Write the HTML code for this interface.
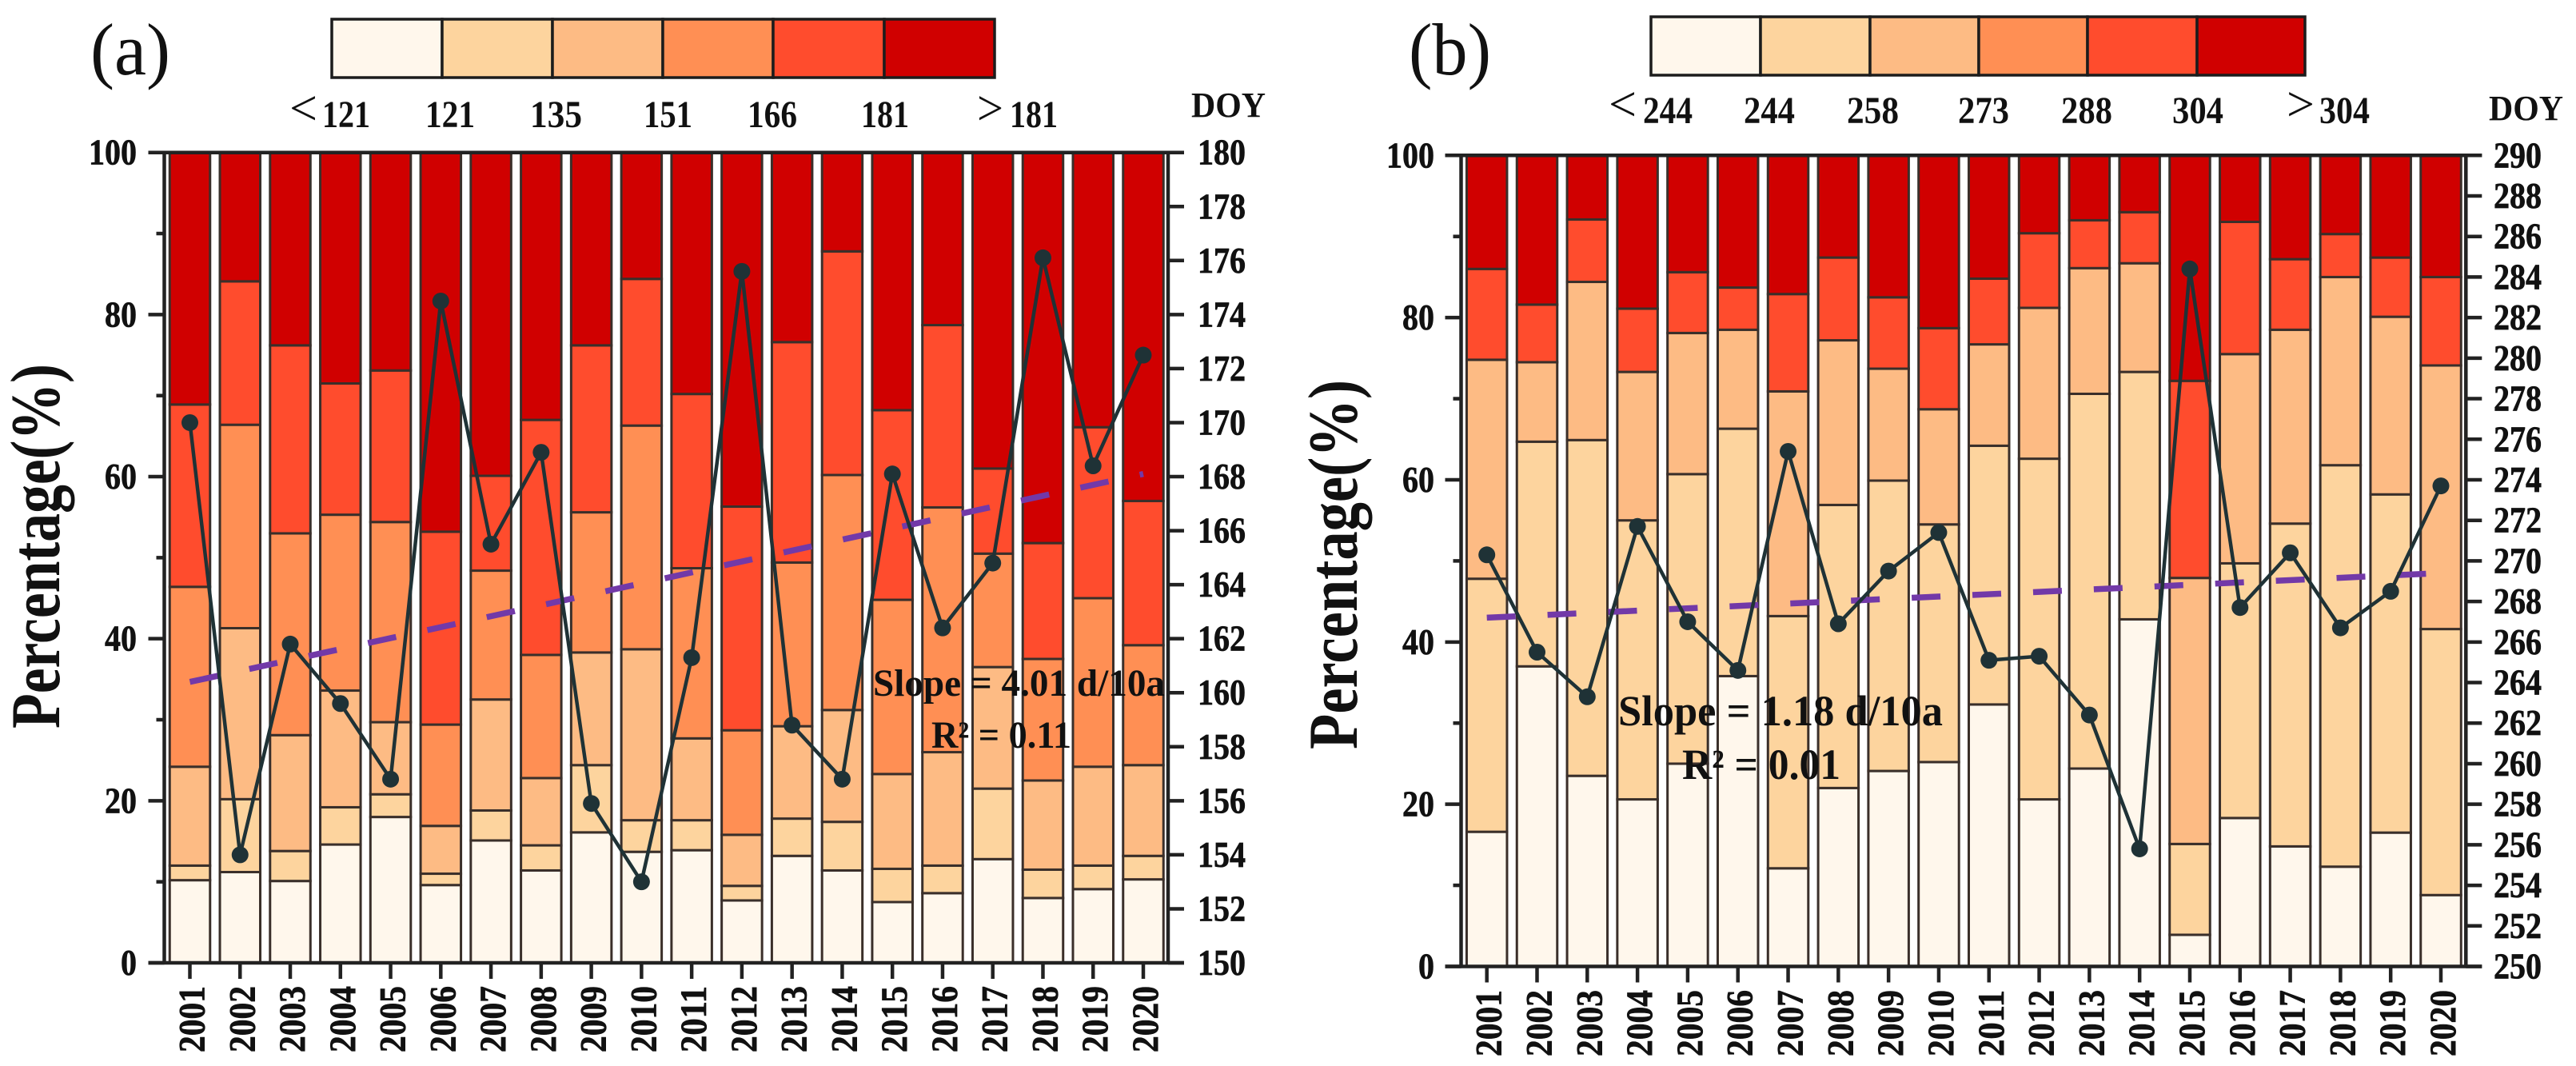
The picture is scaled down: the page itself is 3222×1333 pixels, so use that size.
<!DOCTYPE html>
<html lang="en">
<head>
<meta charset="utf-8">
<title>Percentage and DOY stacked bar charts</title>
<style>
html,body{margin:0;padding:0;background:#fff;width:3222px;height:1333px;overflow:hidden}
svg{display:block}
text{font-family:"Liberation Serif",serif;font-weight:bold;fill:#111}
.heavy{stroke:#111;stroke-width:0.7px}
</style>
</head>
<body>
<svg id="figure" xmlns="http://www.w3.org/2000/svg" width="3222" height="1333" viewBox="0 0 3222 1333">
  <rect x="0" y="0" width="3222" height="1333" fill="#ffffff"/>
  <g id="panel-a"></g>
  <g id="panel-b"></g>

  <text x="113" y="93" font-size="92" style="font-weight:normal" textLength="100" lengthAdjust="spacingAndGlyphs">(a)</text>
  <text x="1762" y="93" font-size="92" style="font-weight:normal" textLength="103" lengthAdjust="spacingAndGlyphs">(b)</text>

  <text transform="translate(74,911) rotate(-90)" font-size="88" textLength="456" lengthAdjust="spacingAndGlyphs">Percentage(%)</text>
  <text transform="translate(1697,937) rotate(-90)" font-size="88" textLength="462" lengthAdjust="spacingAndGlyphs">Percentage(%)</text>

  <g stroke="#1c1c1c" stroke-width="3.5">
    <rect x="415" y="24" width="138" height="73" fill="#FFF7EC"/>
    <rect x="553" y="24" width="138" height="73" fill="#FDD49E"/>
    <rect x="691" y="24" width="138" height="73" fill="#FDBB84"/>
    <rect x="829" y="24" width="138" height="73" fill="#FF8F54"/>
    <rect x="967" y="24" width="139" height="73" fill="#FF4C2D"/>
    <rect x="1106" y="24" width="138" height="73" fill="#D00000"/>
  </g>
  <g font-size="48">
    <text x="362" y="156" font-size="62" style="font-weight:normal" textLength="35" lengthAdjust="spacingAndGlyphs">&lt;</text>
    <text x="403" y="159" textLength="60" lengthAdjust="spacingAndGlyphs">121</text>
    <text x="532" y="159" textLength="62" lengthAdjust="spacingAndGlyphs">121</text>
    <text x="663" y="159" textLength="65" lengthAdjust="spacingAndGlyphs">135</text>
    <text x="805" y="159" textLength="61" lengthAdjust="spacingAndGlyphs">151</text>
    <text x="935" y="159" textLength="62" lengthAdjust="spacingAndGlyphs">166</text>
    <text x="1077" y="159" textLength="60" lengthAdjust="spacingAndGlyphs">181</text>
    <text x="1222" y="156" font-size="62" style="font-weight:normal" textLength="33" lengthAdjust="spacingAndGlyphs">&gt;</text>
    <text x="1263" y="159" textLength="60" lengthAdjust="spacingAndGlyphs">181</text>
  </g>
  <text x="1490" y="146" font-size="44" textLength="93" lengthAdjust="spacingAndGlyphs">DOY</text>

  <g stroke="#1c1c1c" stroke-width="3.5">
    <rect x="2065" y="21" width="137" height="73" fill="#FFF7EC"/>
    <rect x="2202" y="21" width="137" height="73" fill="#FDD49E"/>
    <rect x="2339" y="21" width="136" height="73" fill="#FDBB84"/>
    <rect x="2475" y="21" width="136" height="73" fill="#FF8F54"/>
    <rect x="2611" y="21" width="137" height="73" fill="#FF4C2D"/>
    <rect x="2748" y="21" width="135" height="73" fill="#D00000"/>
  </g>
  <g font-size="48">
    <text x="2012" y="151" font-size="62" style="font-weight:normal" textLength="35" lengthAdjust="spacingAndGlyphs">&lt;</text>
    <text x="2055" y="154" textLength="62" lengthAdjust="spacingAndGlyphs">244</text>
    <text x="2181" y="154" textLength="64" lengthAdjust="spacingAndGlyphs">244</text>
    <text x="2310" y="154" textLength="65" lengthAdjust="spacingAndGlyphs">258</text>
    <text x="2449" y="154" textLength="64" lengthAdjust="spacingAndGlyphs">273</text>
    <text x="2578" y="154" textLength="64" lengthAdjust="spacingAndGlyphs">288</text>
    <text x="2717" y="154" textLength="64" lengthAdjust="spacingAndGlyphs">304</text>
    <text x="2860" y="151" font-size="62" style="font-weight:normal" textLength="35" lengthAdjust="spacingAndGlyphs">&gt;</text>
    <text x="2901" y="154" textLength="63" lengthAdjust="spacingAndGlyphs">304</text>
  </g>
  <text x="3113" y="150" font-size="44" textLength="93" lengthAdjust="spacingAndGlyphs">DOY</text>

  <g id="annotations">
    <text x="1092" y="870" font-size="48" textLength="365" lengthAdjust="spacingAndGlyphs">Slope = 4.01 d/10a</text>
    <text x="1165" y="935" font-size="48" textLength="175" lengthAdjust="spacingAndGlyphs">R² = 0.11</text>
    <text x="2024" y="907" font-size="54" textLength="406" lengthAdjust="spacingAndGlyphs">Slope = 1.18 d/10a</text>
    <text x="2104" y="974" font-size="54" textLength="198" lengthAdjust="spacingAndGlyphs">R² = 0.01</text>
  </g>
</svg>

<script>
// ---- shared categories and ticks ----
var years = [2001,2002,2003,2004,2005,2006,2007,2008,2009,2010,2011,2012,2013,2014,2015,2016,2017,2018,2019,2020];
var leftMajorTicks = [0,20,40,60,80,100];
var leftMinorTicks = [10,30,50,70,90];

// ---- panel (a): upper edge (%) of each stacked band ----
var aBand1 = [10.2,11.2,10.1,14.6,18.0,9.6,15.1,11.4,16.1,13.7,13.9,7.7,13.2,11.4,7.5,8.6,12.8,8.0,9.1,10.3];
var aBand2 = [12.0,20.2,13.8,19.2,20.8,11.0,18.8,14.5,24.4,17.6,17.6,9.5,17.8,17.4,11.6,12.0,21.5,11.5,12.0,13.2];
var aBand3 = [24.2,41.3,28.1,33.6,29.7,16.9,32.5,22.8,38.3,38.7,27.7,15.8,29.2,31.2,23.3,26.0,36.5,22.5,24.2,24.4];
var aBand4 = [46.4,66.4,53.0,55.3,54.4,29.4,48.4,38.0,55.6,66.3,48.7,28.7,49.4,60.2,44.8,56.2,50.5,37.5,45.0,39.2];
var aBand5 = [68.9,84.1,76.2,71.5,73.1,53.2,60.1,67.0,76.2,84.4,70.2,56.3,76.6,87.8,68.2,78.7,61.0,51.8,66.1,57.0];
var aDoy = [170.0,154.0,161.8,159.6,156.8,174.5,165.5,168.9,155.9,153.0,161.3,175.6,158.8,156.8,168.1,162.4,164.8,176.1,168.4,172.5];
var aTrendEnds = [160.4,168.1];
var aRightTicks = [150,152,154,156,158,160,162,164,166,168,170,172,174,176,178,180];

// ---- panel (b): upper edge (%) of each stacked band ----
var bBand1 = [16.6,37.0,23.5,20.6,25.0,35.8,12.1,22.0,24.1,25.2,32.3,20.6,24.4,42.8,3.9,18.3,14.8,12.3,16.5,8.8];
var bBand2 = [47.8,64.7,64.9,55.0,60.7,66.3,43.2,56.9,59.9,54.5,64.2,62.6,70.6,73.3,15.1,49.7,54.6,61.8,58.2,41.6];
var bBand3 = [74.8,74.5,84.4,73.3,78.1,78.5,70.9,77.2,73.7,68.7,76.7,81.2,86.1,86.7,47.9,75.5,78.5,85.0,80.1,74.1];
var bBand4 = [86.0,81.6,92.1,81.1,85.6,83.7,82.9,87.4,82.5,78.7,84.8,90.4,92.0,93.0,72.2,91.8,87.2,90.3,87.4,85.0];
var bDoy = [270.3,265.5,263.3,271.7,267.0,264.6,275.4,266.9,269.5,271.4,265.1,265.3,262.4,255.8,284.4,267.7,270.4,266.7,268.5,273.7];
var bTrendEnds = [267.2,269.4];
var bRightTicks = [250,252,254,256,258,260,262,264,266,268,270,272,274,276,278,280,282,284,286,288,290];

var SVGNS = 'http://www.w3.org/2000/svg';
function make(tag, parent, attrs) {
  var n = document.createElementNS(SVGNS, tag);
  for (var k in attrs) n.setAttribute(k, attrs[k]);
  parent.appendChild(n);
  return n;
}

function drawPanel(p) {
  var root = document.getElementById(p.id);
  function xPos(i) { return p.x0 + i * (p.x1 - p.x0) / (years.length - 1); }
  function yPct(v) { return p.bottom - (v / 100) * (p.bottom - p.top); }
  function yDoy(v) { return p.bottom - ((v - p.doyMin) / (p.doyMax - p.doyMin)) * (p.bottom - p.top); }
  var barW = 50.5;

  // stacked bars
  years.forEach(function (yr, i) {
    var lower = 0;
    for (var s = 0; s <= p.bands.length; s++) {
      var upper = s < p.bands.length ? p.bands[s][i] : 100;
      var seg = make('rect', root, {
        x: xPos(i) - barW / 2, y: yPct(upper), width: barW, height: yPct(lower) - yPct(upper),
        fill: p.colors[s], stroke: '#3a2f2a', 'stroke-width': 3
      });
      
      
      lower = upper;
    }
  });

  // axis frame
  var axisLines = [
    [p.left - 20, p.top, p.right + 20, p.top, 4.5],
    [p.left - 20, p.bottom, p.right + 20, p.bottom, 4.5],
    [p.left, p.top, p.left, p.bottom, 4.5],
    [p.right, p.top, p.right, p.bottom, 4.5]
  ];
  axisLines.forEach(function (a) {
    var ln = make('line', root, { x1: a[0], y1: a[1], x2: a[2], y2: a[3], stroke: '#222', 'stroke-width': a[4] });
    
    
  });

  // left ticks and labels
  leftMajorTicks.forEach(function (v) {
    var tk = make('line', root, { x1: p.left - 20, y1: yPct(v), x2: p.left, y2: yPct(v), stroke: '#222', 'stroke-width': 4.5 });
    
    
    var s = String(v);
    var lb = make('text', root, { x: p.leftLabelEnd, y: yPct(v) + 15, 'font-size': 46, 'text-anchor': 'end', textLength: s.length * 20, lengthAdjust: 'spacingAndGlyphs', 'class': 'heavy' });
    
    
    lb.textContent = s;
  });
  leftMinorTicks.forEach(function (v) {
    var tk = make('line', root, { x1: p.left - 10, y1: yPct(v), x2: p.left, y2: yPct(v), stroke: '#222', 'stroke-width': 4.5 });
    
    
  });

  // right ticks and labels
  p.rightTicks.forEach(function (v) {
    var tk = make('line', root, { x1: p.right, y1: yDoy(v), x2: p.right + 20, y2: yDoy(v), stroke: '#222', 'stroke-width': 4.5 });
    
    
    var lb = make('text', root, { x: p.rightLabelStart, y: yDoy(v) + 15, 'font-size': 46, textLength: 60, lengthAdjust: 'spacingAndGlyphs', 'class': 'heavy' });
    
    
    lb.textContent = String(v);
  });

  // x ticks and labels
  years.forEach(function (yr, i) {
    var tk = make('line', root, { x1: xPos(i), y1: p.bottom, x2: xPos(i), y2: p.bottom + 20, stroke: '#222', 'stroke-width': 4.5 });
    
    
    var lb = make('text', root, {
      transform: 'translate(' + (xPos(i) + 18) + ',' + p.xLabelStart + ') rotate(-90)',
      'font-size': 47, textLength: 83, lengthAdjust: 'spacingAndGlyphs', 'class': 'heavy'
    });
    
    
    lb.textContent = String(yr);
  });

  // trend line
  var trend = make('line', root, {
    x1: xPos(0), y1: yDoy(p.trend[0]), x2: xPos(years.length - 1), y2: yDoy(p.trend[1]),
    stroke: '#7239A8', 'stroke-width': 7.5, 'stroke-dasharray': '36 40'
  });
  
  

  // DOY line
  var pts = p.doy.map(function (v, i) { return xPos(i) + ',' + yDoy(v); }).join(' ');
  var line = make('polyline', root, { points: pts, fill: 'none', stroke: '#1f3236', 'stroke-width': 4.5 });
  
  
  p.doy.forEach(function (v, i) {
    var pt = make('circle', root, { cx: xPos(i), cy: yDoy(v), r: 10.5, fill: '#1f3236' });
    
    
  });
}

drawPanel({
  id: 'panel-a', top: 190.7, bottom: 1204, left: 205.5, right: 1461,
  x0: 237.5, x1: 1430, doyMin: 150, doyMax: 180,
  bands: [aBand1, aBand2, aBand3, aBand4, aBand5],
  colors: ['#FFF7EC','#FDD49E','#FDBB84','#FF8F54','#FF4C2D','#D00000'],
  doy: aDoy, trend: aTrendEnds, rightTicks: aRightTicks,
  leftLabelEnd: 171, rightLabelStart: 1498, xLabelStart: 1316
});
drawPanel({
  id: 'panel-b', top: 194.3, bottom: 1208.5, left: 1827.5, right: 3084.3,
  x0: 1859.7, x1: 3053, doyMin: 250, doyMax: 290,
  bands: [bBand1, bBand2, bBand3, bBand4],
  colors: ['#FFF7EC','#FDD49E','#FDBB84','#FF4C2D','#D00000'],
  doy: bDoy, trend: bTrendEnds, rightTicks: bRightTicks,
  leftLabelEnd: 1794, rightLabelStart: 3119, xLabelStart: 1321
});
</script>
</body>
</html>
